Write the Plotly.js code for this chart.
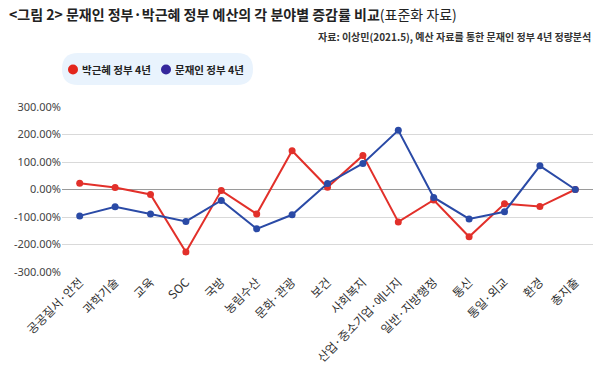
<!DOCTYPE html>
<html><head><meta charset="utf-8">
<script src="https://cdn.plot.ly/plotly-3.0.1.min.js"></script>
<style>body{margin:0;background:#fff}#c{width:600px;height:367px}</style>
</head><body><div id="c"></div>
<script>
const categories = ['공공질서·안전','과학기술','교육','SOC','국방','농림수산','문화·관광','보건','사회복지','산업·중소기업·에너지','일반·지방행정','통신','통일·외교','환경','총지출'];
const parkValues = [23, 7, -18, -227, -4, -89, 141, 8, 124, -118, -38, -172, -52, -62, 0];
const moonValues = [-96, -63, -89, -116, -40, -143, -92, 22, 95, 215, -29, -107, -81, 86, 0];
const parkName = '박근혜 정부 4년';
const moonName = '문재인 정부 4년';
const yTicks = [-300, -200, -100, 0, 100, 200, 300];
const yTickText = yTicks.map(v => v.toFixed(2) + '%');

const FONT = '"Noto Sans CJK KR", "Noto Sans", sans-serif';
const RED = '#e2302a', BLUE = '#2a4aa6';
const W = 531, H = 165, L = 62, B = 272;
const px = v => (v - L) / W, py = v => (B - v) / H;

const traces = [
  {x: categories, y: parkValues, type: 'scatter', mode: 'lines+markers', name: parkName,
   line: {color: RED, width: 2}, marker: {color: RED, size: 7}},
  {x: categories, y: moonValues, type: 'scatter', mode: 'lines+markers', name: moonName,
   line: {color: BLUE, width: 2}, marker: {color: BLUE, size: 7}}
];
// rounded legend box in paper coords
const x0 = px(62), x1 = px(253), y0 = py(85), y1 = py(53);
const rx = 16/W, ry = 16/H;
const path = `M ${x0+rx} ${y0} L ${x1-rx} ${y0} Q ${x1} ${y0} ${x1} ${y0+ry} L ${x1} ${y1-ry} Q ${x1} ${y1} ${x1-rx} ${y1} L ${x0+rx} ${y1} Q ${x0} ${y1} ${x0} ${y1-ry} L ${x0} ${y0+ry} Q ${x0} ${y0} ${x0+rx} ${y0} Z`;
const dot = (cx, color) => ({type: 'circle', xref: 'paper', yref: 'paper', xsizemode: 'pixel', ysizemode: 'pixel',
  xanchor: px(cx), yanchor: py(69.5), x0: -5, x1: 5, y0: -5, y1: 5, fillcolor: color, line: {width: 0}});

const layout = {
  width: 600, height: 367,
  margin: {l: L, r: 600 - L - W, t: B - H, b: 367 - B},
  paper_bgcolor: '#fff', plot_bgcolor: '#fff',
  font: {family: FONT, color: '#333'},
  showlegend: false,
  xaxis: {type: 'category', automargin: false, range: [-0.5, categories.length - 0.5], tickangle: -45,
    tickfont: {size: 12, color: '#333', family: FONT},
    showgrid: false, zeroline: false, showline: false, ticks: '', fixedrange: true},
  yaxis: {automargin: false, range: [-300, 300], tickvals: yTicks, ticktext: yTickText,
    tickfont: {size: 11, color: '#444', family: '"Noto Sans", sans-serif'},
    gridcolor: '#d9d9d9', gridwidth: 1, zeroline: true, zerolinecolor: '#9a9a9a', zerolinewidth: 1,
    showline: false, ticks: '', fixedrange: true},
  shapes: [
    {type: 'path', xref: 'paper', yref: 'paper', path: path, fillcolor: '#e9f3fd', line: {width: 0}, layer: 'below'},
    dot(73, '#e3261c'), dot(166, '#35279c')
  ],
  annotations: [
    {xref: 'paper', yref: 'paper', x: px(7), y: py(14), xanchor: 'left', yanchor: 'middle', showarrow: false,
     text: '<b>&lt;그림 2&gt; 문재인 정부·박근혜 정부 예산의 각 분야별 증감률 비교</b>(표준화 자료)',
     font: {size: 14, color: '#222', family: FONT}},
    {xref: 'paper', yref: 'paper', x: px(593), y: py(37), xanchor: 'right', yanchor: 'middle', showarrow: false,
     text: '<b>자료: 이상민(2021.5), 예산 자료를 통한 문재인 정부 4년 정량분석</b>',
     font: {size: 10, color: '#333', family: FONT}},
    {xref: 'paper', yref: 'paper', x: px(80), y: py(69.5), xanchor: 'left', yanchor: 'middle', showarrow: false,
     text: '<b>' + parkName + '</b>', font: {size: 10.5, color: '#222', family: FONT}},
    {xref: 'paper', yref: 'paper', x: px(173), y: py(69.5), xanchor: 'left', yanchor: 'middle', showarrow: false,
     text: '<b>' + moonName + '</b>', font: {size: 10.5, color: '#222', family: FONT}}
  ]
};
Plotly.newPlot('c', traces, layout, {displayModeBar: false, staticPlot: true});
</script></body></html>
